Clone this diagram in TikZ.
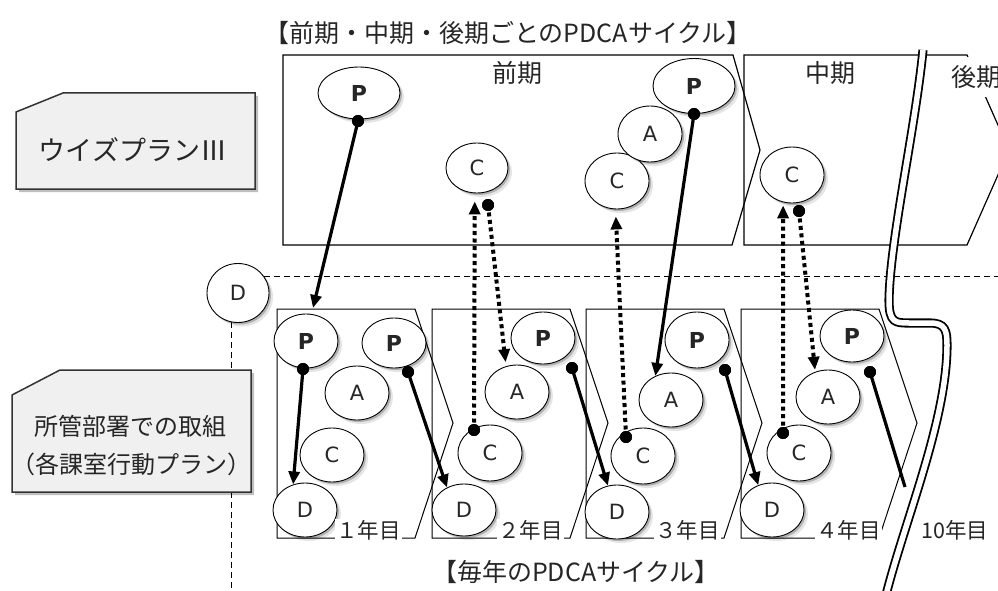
\documentclass[tikz,border=0pt]{standalone}
\usepackage{fontspec}
\setmainfont{Noto Sans CJK JP}
\newfontfamily\jphalt{Noto Sans CJK JP}[RawFeature=+halt]
\newfontfamily\latinf{DejaVu Sans}
\usetikzlibrary{arrows.meta,shadows,shapes.geometric}
\tikzset{
  cyc/.style={ellipse, draw=black, line width=0.9pt, fill=white,
    minimum width=64pt, minimum height=54pt, inner sep=0pt,
    font=\latinf\fontsize{21}{21}\selectfont, text=black!85,
    drop shadow={shadow xshift=2pt, shadow yshift=-2pt, opacity=0.22, fill=black},
    drop shadow={shadow xshift=4pt, shadow yshift=-4pt, opacity=0.10, fill=black}},
  bcyc/.style={cyc, font=\latinf\fontsize{22}{22}\selectfont\bfseries},
  dotn/.style={circle, fill=black, minimum size=12pt, inner sep=0pt},
  solidarr/.style={line width=3.2pt, -{Triangle[length=13pt,width=11pt]}},
  solidline/.style={line width=3.2pt},
  dotarr/.style={line width=4pt, dash pattern=on 4pt off 3.5pt, -{Triangle[length=13pt,width=11pt]}},
  panel/.style={draw=black, line width=1.2pt},
  ypanel/.style={draw=black, line width=1pt},
  dashl/.style={draw=black, line width=1.2pt, dash pattern=on 6pt off 4pt},
  lbox/.style={fill=black!6, draw=black!80, line width=1.5pt,
    drop shadow={shadow xshift=3pt, shadow yshift=-3pt, opacity=0.25, fill=black}},
  ltext/.style={font=\fontsize{24}{38}\selectfont, text=black!85, inner sep=0pt},
  ttl/.style={font=\fontsize{25}{25}\selectfont, text=black!85, inner sep=0pt},
  yrl/.style={font=\fontsize{21.5}{21.5}\selectfont, text=black!85, fill=white, inner sep=1pt, anchor=west},
  brk/.style={draw=black, line width=1.8pt, double=white, double distance=5.5pt},
}
\begin{document}
\begin{tikzpicture}[x=1pt,y=-1pt]
\useasboundingbox (0,0) rectangle (998,591);
\clip (0,0) rectangle (998,591);
\fill[white] (0,0) rectangle (998,591);

% top period panels
\draw[panel] (283,55) -- (733,55) -- (760,150) -- (732,245) -- (283,245) -- cycle;
\draw[panel] (744,55) -- (967,55) -- (1009,150) -- (967,245) -- (744,245) -- cycle;

% yearly panels
\foreach \L in {277,432,586,741}{
  \draw[ypanel] (\L,309) -- ({\L+138},309) -- ({\L+176},423) -- ({\L+138},538) -- (\L,538) -- cycle;
}

% D node and dashed separators
\node[cyc, minimum width=62pt, minimum height=59pt] (DD) at (238,293) {D};
\coordinate (hdE) at (998,277);
\coordinate (vdB) at (232,591);
\draw[dashl] (DD.32) -- (DD.32 -| hdE);
\draw[dashl] (DD.258) -- (DD.258 |- vdB);

% label boxes
\path[lbox] (16,112) -- (63,93) -- (255,93) -- (255,189) -- (16,189) -- cycle;
\node[ltext, font=\fontsize{27}{27}\selectfont] (lab1) at (133,150) {ウイズプランⅢ};
\path[lbox] (12,395) -- (60,370) -- (251,370) -- (251,492) -- (12,492) -- cycle;
\node[ltext, align=center] (lab2) at (131,446) {所管部署での取組\\{\jphalt （}各課室行動プラン{\jphalt ）}};

% titles
\node[ttl] (title) at (508,33) {【前期・中期・後期ごとのPDCAサイクル】};
\node[ttl] (title2) at (576,572) {【毎年のPDCAサイクル】};
\node[ttl] (zenki) at (517,73) {前期};
\node[ttl] (chuki) at (830,73) {中期};
\node[ttl, fill=white, anchor=west, minimum height=40pt] (kouki) at (951,77) {後期};

% top ellipses
\node[bcyc, minimum width=82pt, minimum height=52pt] (TP1) at (359,93) {P};
\node[cyc, minimum width=62pt, minimum height=50pt] (TC1) at (477,168) {C};
\node[cyc, minimum height=56pt] (TC2) at (617,181) {C};
\node[cyc, minimum height=56pt] (TA2) at (650,134) {A};
\node[bcyc, minimum width=82pt, minimum height=55pt] (TP2) at (694,86) {P};
\node[cyc, minimum height=56pt] (TC3) at (792,175) {C};

% year 1
\node[bcyc] (P1a) at (306,341) {P};
\node[bcyc, minimum height=50pt] (P1b) at (394,343) {P};
\node[cyc] (A1) at (357,393) {A};
\node[cyc] (C1) at (332,455) {C};
\node[cyc] (D1) at (305,510) {D};
% year 2
\node[bcyc, minimum height=52pt] (P2) at (543,338) {P};
\node[cyc] (A2) at (517,392) {A};
\node[cyc, minimum height=56pt] (C2) at (490,453) {C};
\node[cyc, minimum height=52pt] (D2) at (464,510) {D};
% year 3
\node[bcyc, minimum height=56pt] (P3) at (697,340) {P};
\node[cyc] (A3) at (671,400) {A};
\node[cyc, minimum height=56pt] (C3) at (643,456) {C};
\node[cyc] (D3) at (617,512) {D};
% year 4
\node[bcyc, minimum height=52pt] (P4) at (852,336) {P};
\node[cyc] (A4) at (828,397) {A};
\node[cyc, minimum height=56pt] (C4) at (799,453) {C};
\node[cyc] (D4) at (772,510) {D};

% year labels
\node[yrl] (y1) at (335,530) {１年目};
\node[yrl] (y2) at (497,530) {２年目};
\node[yrl] (y3) at (654,530) {３年目};
\node[yrl] (y4) at (815,530) {４年目};
\node[yrl] (y10) at (920,530) {10年目};

% connectors
\coordinate (y1top) at (313,308);
\coordinate (e10) at (905,487);
\node[dotn] (dTP1) at (358,121) {};
\node[dotn] (dTC1) at (488,205) {};
\node[dotn] (dTP2) at (694,114) {};
\node[dotn] (dTC3) at (799,211) {};
\node[dotn] (dP1a) at (303,369) {};
\node[dotn] (dP1b) at (408,372) {};
\node[dotn] (dC2) at (474,430) {};
\node[dotn] (dP2) at (572,368) {};
\node[dotn] (dC3) at (626,437) {};
\node[dotn] (dP3) at (725,370) {};
\node[dotn] (dC4) at (783,433) {};
\node[dotn] (dP4) at (870,372) {};

\draw[solidarr] (dTP1.center) -- (y1top);
\draw[solidarr] (dP1a.center) -- (D1.115);
\draw[solidarr] (dP1b.center) -- (D2.127);
\draw[solidarr] (dP2.center) -- (D3.109);
\draw[solidarr] (dP3.center) -- (D4.119);
\draw[solidarr] (dTP2.center) -- (A3.123);
\draw[solidline] (dP4.center) -- (e10);

\draw[dotarr, shorten >=8pt] (dC2.center) -- (TC1.-95);
\draw[dotarr, shorten >=4pt] (dTC1.center) -- (A2.113);
\draw[dotarr, shorten >=7pt] (dC3.center) -- (TC2.-93);
\draw[dotarr, shorten >=3pt] (dC4.center) -- (TC3.-108);
\draw[dotarr, shorten >=2pt] (dTC3.center) -- (A4.117);

% redraw dots on top
\foreach \d in {dTP1,dTC1,dTP2,dTC3,dP1a,dP1b,dC2,dP2,dC3,dP3,dC4,dP4}{
  \fill[black] (\d) circle (6pt);
}

% break line
\draw[brk] (923,50) .. controls (915,130) and (890,240) .. (889,300)
  .. controls (889,323) and (895,323) .. (910,323) -- (930,323)
  .. controls (945,323) and (947,330) .. (947,345)
  .. controls (947,420) and (905,520) .. (886,595);
\end{tikzpicture}
\end{document}
